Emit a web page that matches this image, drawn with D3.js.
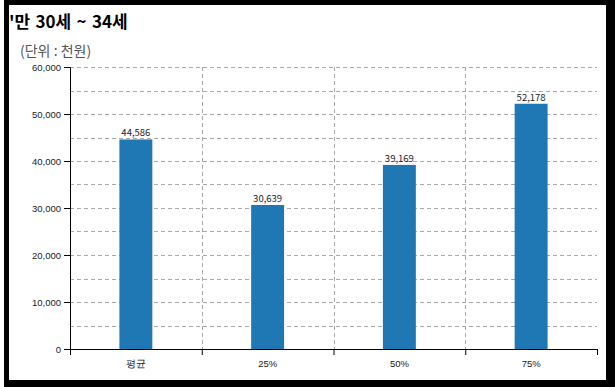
<!DOCTYPE html>
<html>
<head>
<meta charset="utf-8">
<script src="https://cdn.jsdelivr.net/npm/d3@7/dist/d3.min.js"></script>
<style>
  html, body { margin: 0; padding: 0; background: #fff; }
  svg { display: block; font-family: "Noto Sans CJK KR", "Noto Sans", sans-serif; }
  .grid line { stroke: #aaa; stroke-dasharray: 4,3; }
  .axis path, .axis line { stroke: #000; }
  .axis text { fill: #222; font-size: 9.5px; }
</style>
</head>
<body>
<div id="chart"></div>
<script>
var categories = ['평균', '25%', '50%', '75%']
var values = [44586, 30639, 39169, 52178]
var yTicks = [0, 10000, 20000, 30000, 40000, 50000, 60000]
var gridTicks = [5000, 10000, 15000, 20000, 25000, 30000, 35000, 40000, 45000, 50000, 55000, 60000]
var title = "'만 30세 ~ 34세"
var unitLabel = '(단위 : 천원)'

var width = 615
var height = 387
var margin = { top: 67, right: 18, bottom: 38, left: 70 }
var innerW = width - margin.left - margin.right
var innerH = height - margin.top - margin.bottom

var svg = d3.select('#chart').append('svg')
  .attr('width', width)
  .attr('height', height)

// 바깥 테두리
svg.append('rect')
  .attr('x', 4).attr('y', 0)
  .attr('width', width - 4).attr('height', height)
  .attr('fill', '#000')
svg.append('rect')
  .attr('x', 9).attr('y', 5)
  .attr('width', 606 - 9).attr('height', 380 - 5)
  .attr('fill', '#fff')

svg.append('text')
  .attr('x', 9).attr('y', 28)
  .attr('font-size', '17px')
  .attr('font-weight', 'bold')
  .attr('word-spacing', '1.5px')
  .attr('fill', '#000')
  .text(title)

svg.append('text')
  .attr('x', 20).attr('y', 56)
  .attr('font-size', '14px')
  .attr('fill', '#555')
  .text(unitLabel)

var g = svg.append('g')
  .attr('transform', 'translate(' + margin.left + ',' + margin.top + ')')

var x = d3.scaleBand()
  .domain(categories)
  .range([0, innerW])
  .paddingInner(0)

var edge = d3.scaleLinear()
  .domain([0, categories.length])
  .range([0, innerW])

var y = d3.scaleLinear()
  .domain([0, 60000])
  .range([innerH, 0])

// 가로 격자
g.append('g').classed('grid', true)
  .selectAll('line')
  .data(gridTicks)
  .enter().append('line')
  .attr('x1', 0).attr('x2', innerW)
  .attr('y1', function (d) { return Math.round(y(d)) + 0.5 })
  .attr('y2', function (d) { return Math.round(y(d)) + 0.5 })

// 세로 격자
g.append('g').classed('grid', true)
  .selectAll('line')
  .data(d3.range(1, categories.length))
  .enter().append('line')
  .attr('x1', function (d) { return Math.round(edge(d)) + 0.5 })
  .attr('x2', function (d) { return Math.round(edge(d)) + 0.5 })
  .attr('y1', 0).attr('y2', innerH)

// 막대
var barW = x.bandwidth() * 0.25
g.append('g')
  .selectAll('.bar')
  .data(values)
  .enter().append('rect')
  .attr('class', 'bar')
  .attr('fill', '#1f77b4')
  .attr('x', function (d, i) { return x(categories[i]) + (x.bandwidth() - barW) / 2 })
  .attr('y', function (d) { return y(d) })
  .attr('width', barW)
  .attr('height', function (d) { return innerH - y(d) })

g.append('g')
  .selectAll('.bar-label')
  .data(values)
  .enter().append('text')
  .attr('class', 'bar-label')
  .attr('x', function (d, i) { return x(categories[i]) + x.bandwidth() / 2 })
  .attr('y', function (d) { return y(d) - 3 })
  .attr('text-anchor', 'middle')
  .attr('font-size', '9.5px')
  .attr('fill', '#222')
  .text(function (d) { return d3.format(',')(d) })

// 세로축
g.append('g')
  .classed('axis', true)
  .call(d3.axisLeft(y).tickValues(yTicks).tickFormat(d3.format(',')).tickSize(6).tickPadding(3))

// 가로축 눈금
g.append('g')
  .classed('axis', true)
  .attr('transform', 'translate(0,' + innerH + ')')
  .call(d3.axisBottom(edge).tickValues(d3.range(categories.length + 1)).tickFormat('').tickSize(6))

// 가로축 라벨
var xl = g.append('g')
  .classed('axis', true)
  .attr('transform', 'translate(0,' + innerH + ')')
  .call(d3.axisBottom(x).tickSize(0).tickPadding(11))
xl.select('.domain').remove()
</script>
</body>
</html>
